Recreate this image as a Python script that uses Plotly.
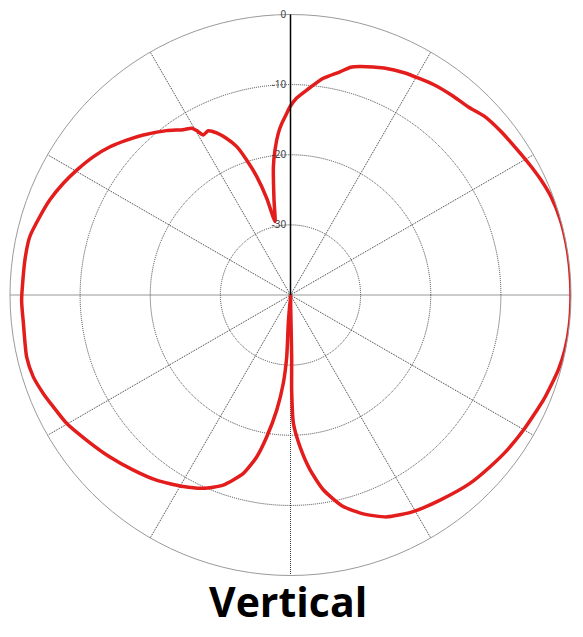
import plotly.graph_objects as go

# Angle in degrees, clockwise from the top; level in dB
angles = [-180, -175.6, -176.5, -175.3, -173.2, -170.5, -168.2, -165.2, -160.5, -155.7,
          -150.8, -144.1, -138.1, -131.9, -125.4, -119.8, -115.2, -111.7, -107.6, -103.2,
          -96, -91.1, -82.5, -77.4, -72.6, -68.4, -63.8, -59.7, -55, -50.6,
          -46.6, -42.6, -37, -33, -30.65, -29.7, -28.6, -26.6, -24.5, -22.2,
          -19.9, -18, -15.9, -13.8, -11.9, -9.85, -7.6, -6.1, -4.3, -2.9,
          -1.2, -0.15, 1.8, 4.5, 8.6, 12.5, 14.8, 16.9, 22.4, 27.1,
          34.3, 38.7, 43.3, 47.3, 52.1, 57.4, 61.9, 65.3, 69.3, 74.5,
          79.4, 84.2, 90, 96.5, 101.3, 105.6, 108.8, 112.6, 115, 120.1,
          125.6, 130.7, 136.4, 143.9, 150.5, 156.5, 161.6, 166, 170.4, 173.6,
          176.4, 178.7, 179.3, 178.9, 179, 180]
levels = [-40, -35.9, -31.2, -27.3, -23.5, -19.5, -16.4, -13.7, -11.25, -9.75,
          -8.7, -7.4, -6.45, -5.4, -4.3, -3.2, -2.6, -2.05, -1.5, -1.35,
          -1.7, -1.65, -1.8, -1.9, -2.55, -3.1, -3.9, -4.7, -5.65, -6.7,
          -7.85, -9.0, -10.65, -11.9, -12.35, -13.0, -14.0, -13.8, -14.6, -15.9,
          -17.5, -19.75, -22.45, -25.8, -29.3, -26.25, -21.55, -19.2, -16.85, -15.5,
          -14.1, -13.15, -11.9, -10.7, -8.75, -7.4, -6.4, -5.95, -5.0, -4.4,
          -3.7, -3.4, -3.1, -2.4, -2.0, -1.6, -1.1, -0.7, -0.3, -0.05,
          0, 0, 0, 0, -0.1, -0.35, -0.65, -0.95, -1.2, -1.6,
          -2.0, -2.45, -2.9, -3.8, -4.5, -5.5, -7.1, -8.9, -11.8, -14.9,
          -18.3, -21.7, -26.4, -31.2, -38.3, -40]

ring_vals = [-30, -20, -10, 0]
ring_text = ["-30", "-20", "-10", "0"]

# page body keeps an 8px margin, so the figure is 8px smaller than the window
W, H = 575, 629
cx, cy, rad = 282.5, 287, 280.5

fig = go.Figure()
fig.add_trace(go.Scatterpolar(
    r=levels, theta=angles, mode="lines",
    line=dict(color="#e31c1c", width=3.5, shape="spline", smoothing=0.6),
    showlegend=False, hoverinfo="skip"
))

fig.update_layout(
    width=W, height=H,
    margin=dict(l=0, r=0, t=0, b=0),
    paper_bgcolor="white",
    polar=dict(
        domain=dict(x=[(cx - rad) / W, (cx + rad) / W],
                    y=[1 - (cy + rad) / H, 1 - (cy - rad) / H]),
        bgcolor="white",
        angularaxis=dict(
            rotation=90, direction="clockwise", dtick=30,
            showticklabels=False, ticks="",
            showline=True, linecolor="#9a9a9a", linewidth=1,
            gridcolor="#333", griddash="1px,1px", gridwidth=1
        ),
        radialaxis=dict(
            range=[-40, 0], tickvals=ring_vals, ticktext=ring_text,
            angle=90, tickangle=90, side="counterclockwise", ticks="",
            showline=True, linecolor="black", linewidth=1.5,
            gridcolor="#444", griddash="1px,1px", gridwidth=1,
            tickfont=dict(family="Noto Sans", size=10, color="#444")
        ),
    ),
    annotations=[dict(
        text="<b>Vertical</b>", x=280 / W, y=1 - 593 / H,
        xref="paper", yref="paper", showarrow=False,
        xanchor="center", yanchor="middle",
        font=dict(family="Open Sans", size=41, color="black")
    )],
)

fig.write_html("out.html")
